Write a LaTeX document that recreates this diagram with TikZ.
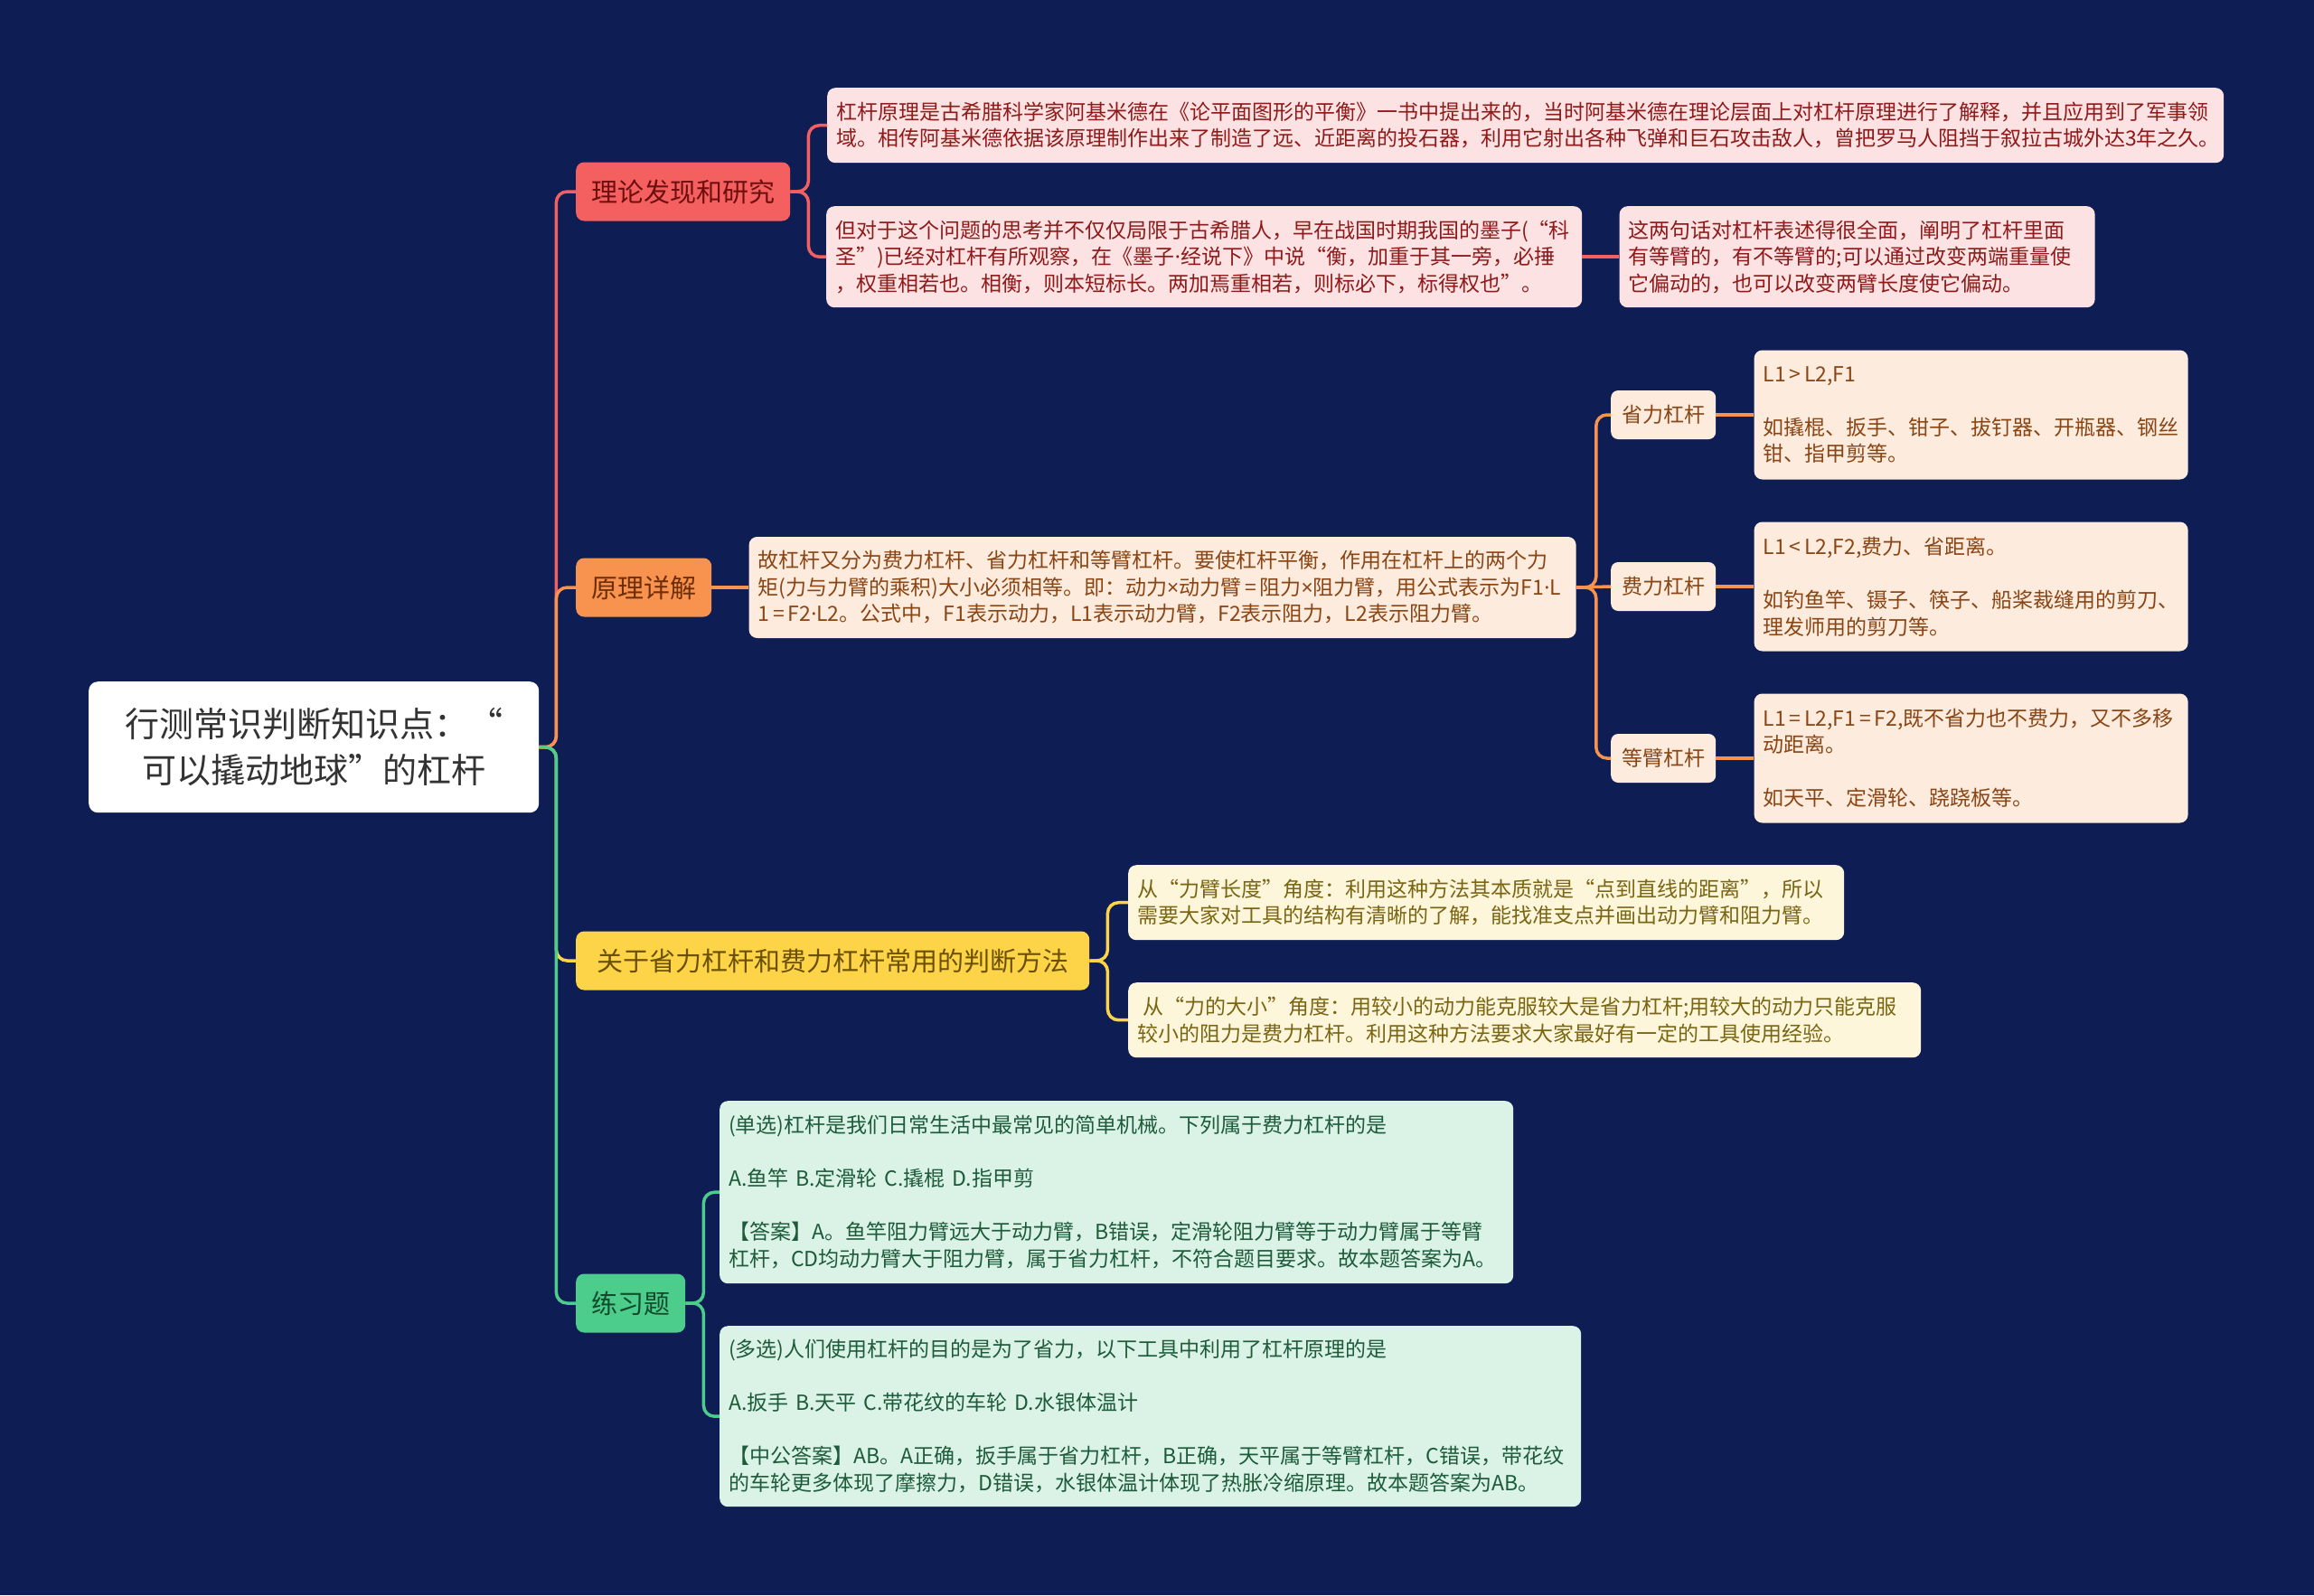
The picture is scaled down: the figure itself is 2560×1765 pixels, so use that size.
\documentclass[tikz,border=0pt]{standalone}
\usepackage{fontspec}
\setmainfont{Noto Sans CJK SC}
\newfontfamily\latinfont{Noto Sans}
\newcommand{\levdot}{{\latinfont ·}}
\newcommand{\levtimes}{{\latinfont ×}}
\usepackage{tikz}
\usetikzlibrary{positioning}
\definecolor{MapNavy}{HTML}{0E1E55}
\definecolor{MapRed}{HTML}{F45F5F}
\definecolor{MapOrange}{HTML}{F8924F}
\definecolor{MapYellow}{HTML}{FDD447}
\definecolor{MapGreen}{HTML}{4CCD8B}
\definecolor{RootText}{HTML}{333333}
\definecolor{RedText}{HTML}{6E0E0E}
\definecolor{OrangeText}{HTML}{6E2E08}
\definecolor{YellowText}{HTML}{6A5000}
\definecolor{GreenText}{HTML}{0E4A2B}
\definecolor{PinkPale}{HTML}{FDE2E3}
\definecolor{PinkText}{HTML}{8E1A1A}
\definecolor{CreamPale}{HTML}{FDEBDD}
\definecolor{CreamText}{HTML}{8A4514}
\definecolor{LemonPale}{HTML}{FDF6DB}
\definecolor{LemonText}{HTML}{7A6512}
\definecolor{MintPale}{HTML}{DAF3E6}
\definecolor{MintText}{HTML}{1D5B3A}

\begin{document}
\begin{tikzpicture}[
  x=1pt,y=-1pt,
  node distance=41pt,
  rootbox/.style={rounded corners=10pt,fill=white,text=RootText,font=\fontsize{38}{51}\selectfont,align=center,text width=470pt,minimum height=145pt,inner xsep=14pt},
  branchbox/.style={rounded corners=9pt,font=\fontsize{29}{34}\selectfont,minimum height=65pt,inner xsep=17pt,anchor=west},
  leafbox/.style={rounded corners=9pt,font=\fontsize{23}{29.5}\selectfont,align=left,inner xsep=10pt,inner ysep=0pt},
  pinkleaf/.style={leafbox,fill=PinkPale,text=PinkText},
  creamleaf/.style={leafbox,fill=CreamPale,text=CreamText},
  lemonleaf/.style={leafbox,fill=LemonPale,text=LemonText},
  mintleaf/.style={leafbox,fill=MintPale,text=MintText},
  leverbox/.style={rounded corners=8pt,fill=CreamPale,text=CreamText,font=\fontsize{23}{28}\selectfont,minimum height=54pt,inner xsep=12pt,anchor=west},
  link/.style={line width=3.5pt,rounded corners=12pt}
]
\fill[MapNavy] (0,0) rectangle (2560,1765);

\node[rootbox,anchor=north west] (root) at (98,754) {行测常识判断知识点：“\\可以撬动地球”的杠杆};
\node[branchbox,fill=MapRed,text=RedText] (b1) at (637,212) {理论发现和研究};
\node[branchbox,fill=MapOrange,text=OrangeText] (b2) at (637,650) {原理详解};
\node[branchbox,fill=MapYellow,text=YellowText,minimum width=568pt] (b3) at (637,1063) {关于省力杠杆和费力杠杆常用的判断方法};
\node[branchbox,fill=MapGreen,text=GreenText] (b4) at (637,1442) {练习题};

% theory
\node[pinkleaf,anchor=north west,text width=1525pt,minimum height=83pt] (t1) at (915,97) {杠杆原理是古希腊科学家阿基米德在《论平面图形的平衡》一书中提出来的，当时阿基米德在理论层面上对杠杆原理进行了解释，并且应用到了军事领\\域。相传阿基米德依据该原理制作出来了制造了远、近距离的投石器，利用它射出各种飞弹和巨石攻击敌人，曾把罗马人阻挡于叙拉古城外达3年之久。};
\node[pinkleaf,anchor=north west,text width=816pt,minimum height=112pt] (t2) at (914,228) {但对于这个问题的思考并不仅仅局限于古希腊人，早在战国时期我国的墨子(“科\\圣”)已经对杠杆有所观察，在《墨子\levdot 经说下》中说“衡，加重于其一旁，必捶\\，权重相若也。相衡，则本短标长。两加焉重相若，则标必下，标得权也”。};
\node[pinkleaf,right=41pt of t2,text width=506pt,minimum height=112pt] (t3) {这两句话对杠杆表述得很全面，阐明了杠杆里面\\有等臂的，有不等臂的;可以通过改变两端重量使\\它偏动的，也可以改变两臂长度使它偏动。};

% principle
\node[creamleaf,right=of b2,text width=895pt,minimum height=112pt] (p1) {故杠杆又分为费力杠杆、省力杠杆和等臂杠杆。要使杠杆平衡，作用在杠杆上的两个力\\矩(力与力臂的乘积)大小必须相等。即：动力\levtimes 动力臂\,=\,阻力\levtimes 阻力臂，用公式表示为F1\levdot L\\1\,=\,F2\levdot L2。公式中，F1表示动力，L1表示动力臂，F2表示阻力，L2表示阻力臂。};
\node[leverbox] (lv1) at (1782,459) {省力杠杆};
\node[leverbox] (lv2) at (1782,649) {费力杠杆};
\node[leverbox] (lv3) at (1782,839) {等臂杠杆};
\node[creamleaf,right=42pt of lv1,text width=460pt,minimum height=143pt] (d1) {L1\,>\,L2,F1\\[29.5pt]如撬棍、扳手、钳子、拔钉器、开瓶器、钢丝\\钳、指甲剪等。};
\node[creamleaf,right=42pt of lv2,text width=460pt,minimum height=143pt] (d2) {L1\,<\,L2,F2,费力、省距离。\\[29.5pt]如钓鱼竿、镊子、筷子、船桨裁缝用的剪刀、\\理发师用的剪刀等。};
\node[creamleaf,right=42pt of lv3,text width=460pt,minimum height=143pt] (d3) {L1\,=\,L2,F1\,=\,F2,既不省力也不费力，又不多移\\动距离。\\[29.5pt]如天平、定滑轮、跷跷板等。};

% judging methods
\node[lemonleaf,anchor=north west,text width=772pt,minimum height=83pt] (y1) at (1248,957) {从“力臂长度”角度：利用这种方法其本质就是“点到直线的距离”，所以\\需要大家对工具的结构有清晰的了解，能找准支点并画出动力臂和阻力臂。};
\node[lemonleaf,anchor=north west,text width=857pt,minimum height=83pt] (y2) at (1248,1087) {\hspace{6pt}从“力的大小”角度：用较小的动力能克服较大是省力杠杆;用较大的动力只能克服\\较小的阻力是费力杠杆。利用这种方法要求大家最好有一定的工具使用经验。};

% exercises
\node[mintleaf,anchor=north west,text width=858pt,minimum height=202pt] (g1) at (796,1218) {(单选)杠杆是我们日常生活中最常见的简单机械。下列属于费力杠杆的是\\[29.5pt]A.鱼竿 B.定滑轮 C.撬棍 D.指甲剪\\[29.5pt]【答案】A。鱼竿阻力臂远大于动力臂，B错误，定滑轮阻力臂等于动力臂属于等臂\\杠杆，CD均动力臂大于阻力臂，属于省力杠杆，不符合题目要求。故本题答案为A。};
\node[mintleaf,anchor=north west,text width=933pt,minimum height=200pt] (g2) at (796,1467) {(多选)人们使用杠杆的目的是为了省力，以下工具中利用了杠杆原理的是\\[29.5pt]A.扳手 B.天平 C.带花纹的车轮 D.水银体温计\\[29.5pt]【中公答案】AB。A正确，扳手属于省力杠杆，B正确，天平属于等臂杠杆，C错误，带花纹\\的车轮更多体现了摩擦力，D错误，水银体温计体现了热胀冷缩原理。故本题答案为AB。};

% connectors
\draw[link,draw=MapRed] (root.east) -- ++(19,0) |- (b1.west);
\draw[link,draw=MapOrange] (root.east) -- ++(19,0) |- (b2.west);
\draw[link,draw=MapYellow] (root.east) -- ++(19,0) |- (b3.west);
\draw[link,draw=MapGreen] (root.east) -- ++(19,0) |- (b4.west);
\draw[link,draw=MapRed] (b1.east) -- ++(20,0) |- (t1.west);
\draw[link,draw=MapRed] (b1.east) -- ++(20,0) |- (t2.west);
\draw[link,draw=MapRed] (t2) -- (t3);
\draw[link,draw=MapOrange] (b2) -- (p1);
\draw[link,draw=MapOrange] (p1.east) -- ++(22,0) |- (lv1.west);
\draw[link,draw=MapOrange] (p1.east) -- (lv2.west);
\draw[link,draw=MapOrange] (p1.east) -- ++(22,0) |- (lv3.west);
\draw[link,draw=MapOrange] (lv1) -- (d1); \draw[link,draw=MapOrange] (lv2) -- (d2); \draw[link,draw=MapOrange] (lv3) -- (d3);
\draw[link,draw=MapYellow] (b3.east) -- ++(20,0) |- (y1.west);
\draw[link,draw=MapYellow] (b3.east) -- ++(20,0) |- (y2.west);
\draw[link,draw=MapGreen] (b4.east) -- ++(20,0) |- (g1.west);
\draw[link,draw=MapGreen] (b4.east) -- ++(20,0) |- (g2.west);
\end{tikzpicture}
\end{document}
